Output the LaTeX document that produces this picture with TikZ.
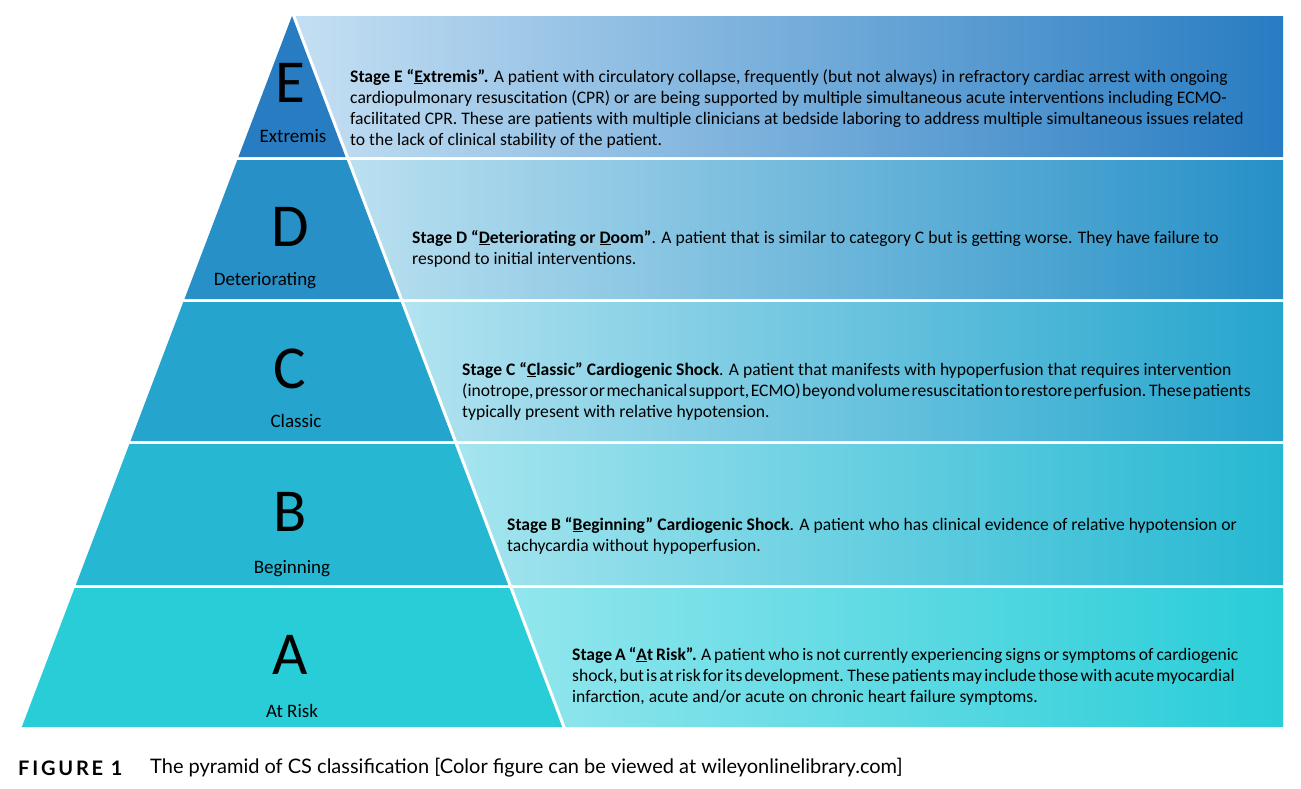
\documentclass[tikz,border=0pt]{standalone}
\usepackage{fontspec}
\setmainfont{Carlito}
\newfontfamily\capfont{Lato}
\newfontfamily\figfont[LetterSpace=14]{Lato}
\usepackage{tikz}
\usepackage{xcolor}

\definecolor{bandE}{RGB}{40,124,194}
\definecolor{bandD}{RGB}{38,144,199}
\definecolor{bandC}{RGB}{37,165,205}
\definecolor{bandB}{RGB}{38,184,210}
\definecolor{bandA}{RGB}{40,205,216}
\definecolor{paleE}{RGB}{196,223,243}
\definecolor{paleD}{RGB}{186,224,240}
\definecolor{paleC}{RGB}{178,227,240}
\definecolor{paleB}{RGB}{165,229,239}
\definecolor{paleA}{RGB}{146,230,237}

\tikzset{
  stage/.style={inner sep=0pt, font=\fontsize{61}{61}\selectfont},
  stagename/.style={inner sep=0pt, font=\fontsize{19}{21}\selectfont},
  stagetext/.style={anchor=west, align=left, inner sep=0pt, font=\fontsize{17.6}{21}\selectfont},
}

\begin{document}
\begin{tikzpicture}[x=1pt,y=-1pt]
\useasboundingbox[fill=white] (0,0) rectangle (1301,788);
\fill[bandE] (292,16) -- (345.6,157) -- (238.4,157) -- cycle;
\fill[bandD] (237.3,160) -- (346.7,160) -- (399.5,299) -- (184.5,299) -- cycle;
\fill[bandC] (183.3,302) -- (400.7,302) -- (453.5,441) -- (130.5,441) -- cycle;
\fill[bandB] (129.4,444) -- (454.6,444) -- (508.2,585) -- (75.8,585) -- cycle;
\fill[bandA] (74.6,588) -- (509.4,588) -- (562.2,727) -- (21.8,727) -- cycle;
\shade[left color=paleE, right color=bandE] (295.5,16) -- (1283,16) -- (1283,157) -- (349.1,157) -- cycle;
\shade[left color=paleD, right color=bandD] (350.2,160) -- (1283,160) -- (1283,299) -- (403,299) -- cycle;
\shade[left color=paleC, right color=bandC] (404.2,302) -- (1283,302) -- (1283,441) -- (457,441) -- cycle;
\shade[left color=paleB, right color=bandB] (458.1,444) -- (1283,444) -- (1283,585) -- (511.7,585) -- cycle;
\shade[left color=paleA, right color=bandA] (512.9,588) -- (1283,588) -- (1283,727) -- (565.7,727) -- cycle;

\node[stage] (lE) at (290,83) {E};
\node[stagename] (nE) at (293,136) {Extremis};
\node[stage] (lD) at (290,227) {D};
\node[stagename] (nD) at (265,281) {Deteriorating};
\node[stage] (lC) at (290,369) {C};
\node[stagename] (nC) at (296,421) {Classic};
\node[stage] (lB) at (290,512) {B};
\node[stagename] (nB) at (292,569) {Beginning};
\node[stage] (lA) at (290,655) {A};
\node[stagename] (nA) at (292,711) {At Risk};

\node[stagetext] (tE) at (350,108.5) {\textbf{Stage E “\underline{E}xtremis”.} A patient with circulatory collapse, frequently (but not always) in refractory cardiac arrest with ongoing\\
cardiopulmonary resuscitation (CPR) or are being supported by multiple simultaneous acute interventions including ECMO-\\
facilitated CPR. These are patients with multiple clinicians at bedside laboring to address multiple simultaneous issues related\\
to the lack of clinical stability of the patient.};
\node[stagetext] (tD) at (412,248.5) {\textbf{Stage D “\underline{D}eteriorating or \underline{D}oom”}. A patient that is similar to category C but is getting worse. They have failure to\\
respond to initial interventions.};
\node[stagetext] (tC) at (462,391) {\textbf{Stage C “\underline{C}lassic” Cardiogenic Shock}. A patient that manifests with hypoperfusion that requires intervention\\
{\spaceskip=1.5pt (inotrope, pressor or mechanical support, ECMO) beyond volume resuscitation to restore perfusion. These patients}\\
typically present with relative hypotension.};
\node[stagetext] (tB) at (507,535.5) {\textbf{Stage B “\underline{B}eginning” Cardiogenic Shock}. A patient who has clinical evidence of relative hypotension or\\
tachycardia without hypoperfusion.};
\node[stagetext] (tA) at (572,676) {{\spaceskip=3pt\textbf{Stage A “\underline{A}t Risk”.} A patient who is not currently experiencing signs or symptoms of cardiogenic}\\
{\spaceskip=2.2pt shock, but is at risk for its development. These patients may include those with acute myocardial}\\
infarction, acute and/or acute on chronic heart failure symptoms.};

\node[anchor=west, inner sep=0pt, font=\figfont\bfseries\fontsize{20}{22}\selectfont] (fig) at (18,768) {FIGURE 1};
\node[anchor=west, inner sep=0pt, font=\capfont\fontsize{20}{22}\selectfont] (cap) at (150,768) {The pyramid of CS classification [Color figure can be viewed at wileyonlinelibrary.com]};
\end{tikzpicture}
\end{document}
